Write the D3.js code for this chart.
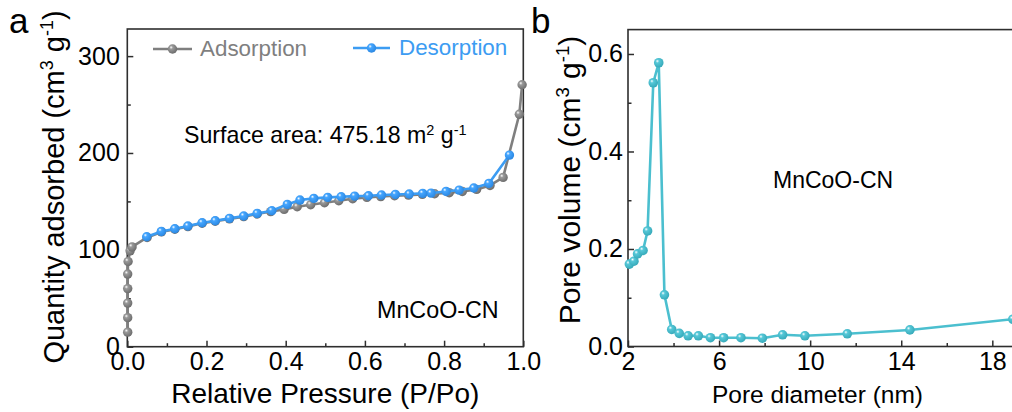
<!DOCTYPE html>
<html>
<head>
<meta charset="utf-8">
<script src="https://cdn.jsdelivr.net/npm/d3@7"></script>
<style>
  html, body { margin: 0; padding: 0; background: #fff; }
  svg { display: block; font-family: "Liberation Sans", Arial, sans-serif; }
</style>
</head>
<body>
<svg id="fig" width="1012" height="412"></svg>
<script>
// ---- N2 isotherm (panel a) ----
const adsP = [0.001, 0.001, 0.001, 0.001, 0.001, 0.002, 0.007, 0.012, 0.05, 0.086, 0.12, 0.153, 0.189, 0.222, 0.258, 0.294, 0.328, 0.362, 0.396, 0.429, 0.463, 0.498, 0.534, 0.569, 0.605, 0.64, 0.675, 0.71, 0.745, 0.776, 0.813, 0.846, 0.882, 0.916, 0.949, 0.99, 0.997];
const adsQ = [15, 30, 45, 60, 75, 88, 99, 103, 112.8, 118.5, 121.3, 124, 127.5, 129.5, 132, 134.3, 137, 139.5, 141.8, 144.5, 146.6, 148.6, 150.7, 152.7, 154.2, 155, 155.8, 156.5, 157.3, 157.9, 159, 160.3, 162.4, 166.5, 174.8, 240, 270.4];
const desP = [0.965, 0.913, 0.875, 0.838, 0.805, 0.767, 0.746, 0.712, 0.677, 0.642, 0.609, 0.574, 0.54, 0.506, 0.471, 0.436, 0.404, 0.365, 0.328, 0.294, 0.258, 0.222, 0.189, 0.153, 0.12, 0.086, 0.049];
const desQ = [197.8, 168.6, 163.8, 161.7, 160.3, 158.6, 158.3, 157.6, 157.2, 156.6, 155.8, 155.5, 154.8, 154.2, 153.1, 151.4, 146.9, 140.4, 137.6, 134.9, 132.5, 130, 128, 124.6, 121.8, 119, 113.5];
const isoXTicks = [0, 0.2, 0.4, 0.6, 0.8, 1.0];
const isoXMinor = [0.1, 0.3, 0.5, 0.7, 0.9];
const isoYTicks = [0, 100, 200, 300];
const isoYMinor = [50, 150, 250];

// ---- pore size distribution (panel b) ----
const poreD = [2.06, 2.26, 2.42, 2.66, 2.86, 3.11, 3.35, 3.60, 3.92, 4.25, 4.64, 5.09, 5.62, 6.2, 6.96, 7.9, 8.79, 9.77, 11.63, 14.38, 18.9];
const poreV = [0.169, 0.175, 0.19, 0.197, 0.237, 0.541, 0.582, 0.106, 0.035, 0.027, 0.022, 0.022, 0.018, 0.018, 0.018, 0.017, 0.024, 0.022, 0.026, 0.034, 0.056];
const psdXTicks = [2, 6, 10, 14, 18];
const psdXMinor = [4, 8, 12, 16, 20];
const psdYTicks = [0, 0.2, 0.4, 0.6];
const psdYMinor = [0.1, 0.3, 0.5];

const GRAY = "#7f7f7f", BLUE = "#3c9cf2", TEAL = "#4bbfcf", AXIS = "#2e2e2e";

const svg = d3.select("#fig");
svg.append("rect").attr("width", 1012).attr("height", 412).attr("fill", "#fff");
const defs = svg.append("defs");

// glossy sphere markers
function sphere(id, base, dark) {
  const g = defs.append("radialGradient").attr("id", id)
    .attr("cx", "40%").attr("cy", "38%").attr("r", "65%").attr("fx", "35%").attr("fy", "32%");
  g.append("stop").attr("offset", "0%").attr("stop-color", "#ffffff");
  g.append("stop").attr("offset", "28%").attr("stop-color", base);
  g.append("stop").attr("offset", "100%").attr("stop-color", dark);
}
sphere("gGray", "#9a9a9a", "#6a6a6a");
sphere("gBlue", "#45a6ff", "#2a86e0");
sphere("gTeal", "#56c8d8", "#35a8b8");

function drawAxes(g, x, y, opt) {
  const [x0, x1] = x.range(), [y0, y1] = y.range();
  // minor ticks
  g.append("g").attr("transform", `translate(0,${y0})`)
    .call(d3.axisBottom(x).tickValues(opt.xMinor.filter(v => v <= x.domain()[1])).tickSize(-3.5).tickFormat(""))
    .call(s => s.select(".domain").remove())
    .selectAll("line").attr("stroke", AXIS).attr("stroke-width", 1.5);
  g.append("g").attr("transform", `translate(${x0},0)`)
    .call(d3.axisLeft(y).tickValues(opt.yMinor).tickSize(-3.5).tickFormat(""))
    .call(s => s.select(".domain").remove())
    .selectAll("line").attr("stroke", AXIS).attr("stroke-width", 1.5);
  // major ticks with labels
  const xa = g.append("g").attr("transform", `translate(0,${y0})`)
    .call(d3.axisBottom(x).tickValues(opt.xTicks).tickSize(-6).tickPadding(opt.xPad).tickFormat(opt.xFmt));
  xa.select(".domain").remove();
  xa.selectAll("line").attr("stroke", AXIS).attr("stroke-width", 1.5);
  xa.selectAll("text").attr("font-size", opt.tickFont).attr("fill", "#000").attr("font-family", null);
  const ya = g.append("g").attr("transform", `translate(${x0},0)`)
    .call(d3.axisLeft(y).tickValues(opt.yTicks).tickSize(-6).tickPadding(opt.yPad).tickFormat(opt.yFmt));
  ya.select(".domain").remove();
  ya.selectAll("line").attr("stroke", AXIS).attr("stroke-width", 1.5);
  ya.selectAll("text").attr("font-size", opt.tickFont).attr("fill", "#000").attr("font-family", null);
  // frame
  g.append("rect").attr("x", x0).attr("y", y1).attr("width", x1 - x0).attr("height", y0 - y1)
    .attr("fill", "none").attr("stroke", AXIS).attr("stroke-width", 1.6);
}

function series(g, x, y, xs, ys, color, grad, r) {
  const pts = xs.map((v, i) => [v, ys[i]]);
  g.append("path").datum(pts)
    .attr("d", d3.line().x(d => x(d[0])).y(d => y(d[1])))
    .attr("fill", "none").attr("stroke", color).attr("stroke-width", 2.6).attr("stroke-linejoin", "round");
  g.selectAll(null).data(pts).join("circle")
    .attr("cx", d => x(d[0])).attr("cy", d => y(d[1])).attr("r", r)
    .attr("fill", `url(#${grad})`);
}

function unitLabel(t, main, size) {
  t.append("tspan").text(main + " (cm");
  t.append("tspan").attr("dy", -size * 0.38).attr("font-size", size * 0.62).text("3");
  t.append("tspan").attr("dy", size * 0.38).text(" g");
  t.append("tspan").attr("dy", -size * 0.38).attr("font-size", size * 0.62).text("-1");
  t.append("tspan").attr("dy", size * 0.38).text(")");
}

// ================= panel a =================
const xa = d3.scaleLinear().domain([0, 1]).range([127.3, 523.3]);
const ya = d3.scaleLinear().domain([0, 328]).range([346.7, 29]);
const ga = svg.append("g");
drawAxes(ga, xa, ya, {
  xTicks: isoXTicks, xMinor: isoXMinor, yTicks: isoYTicks, yMinor: isoYMinor,
  xFmt: d3.format(".1f"), yFmt: d3.format("d"), xPad: 5.5, yPad: 7.5, tickFont: 25
});
series(ga, xa, ya, adsP, adsQ, GRAY, "gGray", 4.7);
series(ga, xa, ya, desP, desQ, BLUE, "gBlue", 4.7);

// legend
const legA = ga.append("g");
legA.append("line").attr("x1", 153).attr("x2", 192).attr("y1", 49).attr("y2", 49).attr("stroke", GRAY).attr("stroke-width", 2.6);
legA.append("circle").attr("cx", 172.5).attr("cy", 49).attr("r", 4.7).attr("fill", "url(#gGray)");
legA.append("text").attr("x", 200).attr("y", 56).attr("font-size", 22.4).attr("fill", GRAY).text("Adsorption");
legA.append("line").attr("x1", 353).attr("x2", 390).attr("y1", 48).attr("y2", 48).attr("stroke", BLUE).attr("stroke-width", 2.6);
legA.append("circle").attr("cx", 371.5).attr("cy", 48).attr("r", 4.7).attr("fill", "url(#gBlue)");
legA.append("text").attr("x", 399).attr("y", 55).attr("font-size", 22.4).attr("fill", BLUE).text("Desorption");

// annotations
const sa = ga.append("text").attr("x", 184).attr("y", 143).attr("font-size", 23.2).attr("fill", "#000");
sa.append("tspan").text("Surface area: 475.18 m");
sa.append("tspan").attr("dy", -8.5).attr("font-size", 14.5).text("2");
sa.append("tspan").attr("dy", 8.5).text(" g");
sa.append("tspan").attr("dy", -8.5).attr("font-size", 14.5).text("-1");
ga.append("text").attr("x", 377).attr("y", 318).attr("font-size", 23.3).attr("fill", "#000").text("MnCoO-CN");

// axis titles
ga.append("text").attr("x", 325.3).attr("y", 403).attr("text-anchor", "middle").attr("font-size", 28).text("Relative Pressure (P/Po)");
unitLabel(ga.append("text").attr("transform", "translate(64,187) rotate(-90)").attr("text-anchor", "middle").attr("font-size", 29), "Quantity adsorbed", 29);
ga.append("text").attr("x", 9).attr("y", 33).attr("font-size", 35).text("a");

// ================= panel b =================
const xb = d3.scaleLinear().domain([2, 20]).range([628, 628 + 18 * 22.77]);
const yb = d3.scaleLinear().domain([0, 0.65]).range([346.5, 29.6]);
const gb = svg.append("g");
drawAxes(gb, xb, yb, {
  xTicks: psdXTicks, xMinor: psdXMinor, yTicks: psdYTicks, yMinor: psdYMinor,
  xFmt: d3.format("d"), yFmt: d3.format(".1f"), xPad: 6, yPad: 5, tickFont: 25
});
series(gb, xb, yb, poreD, poreV, TEAL, "gTeal", 4.8);
gb.append("text").attr("x", 773).attr("y", 188).attr("font-size", 23).attr("fill", "#000").text("MnCoO-CN");
gb.append("text").attr("x", 817.5).attr("y", 403).attr("text-anchor", "middle").attr("font-size", 24.5).text("Pore diameter (nm)");
unitLabel(gb.append("text").attr("transform", "translate(580,180) rotate(-90)").attr("text-anchor", "middle").attr("font-size", 30), "Pore volume", 30);
gb.append("text").attr("x", 531).attr("y", 33).attr("font-size", 35).text("b");
</script>
</body>
</html>
